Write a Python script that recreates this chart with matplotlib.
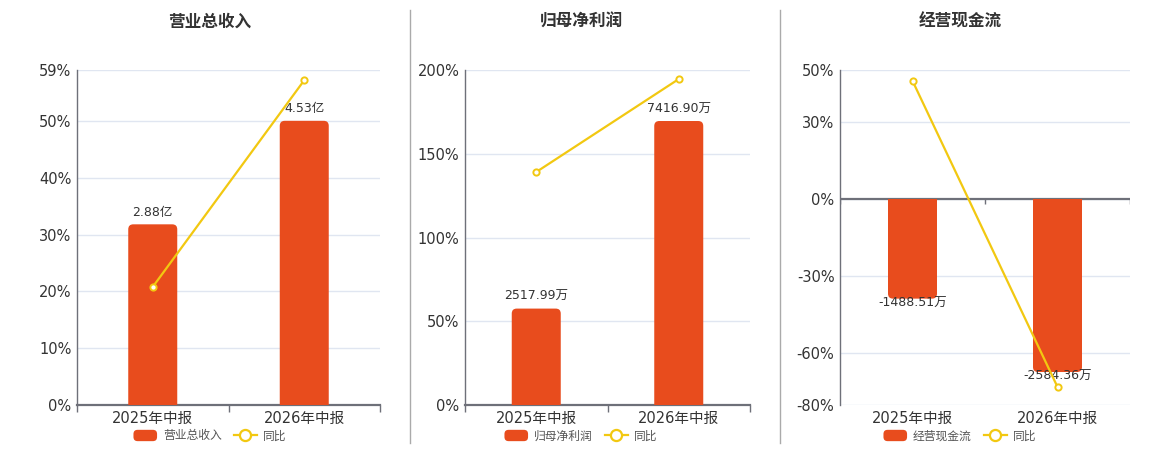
import numpy as np
import matplotlib
matplotlib.use("Agg")
import matplotlib.pyplot as plt
from matplotlib.patches import FancyBboxPatch, Rectangle
from matplotlib.lines import Line2D
from matplotlib.legend_handler import HandlerBase

plt.rcParams["font.family"] = ["DejaVu Sans", "Noto Sans CJK SC"]

categories = ["2025年中报", "2026年中报"]

# 营业总收入 (亿) and 同比 (%)
revenue = [2.88, 4.53]
revenue_labels = ["2.88亿", "4.53亿"]
revenue_yoy = [20.8, 57.2]

# 归母净利润 (万) and 同比 (%)
profit = [2517.99, 7416.90]
profit_labels = ["2517.99万", "7416.90万"]
profit_yoy = [139.1, 194.6]

# 经营现金流 (万) and 同比 (%)
cashflow = [-1488.51, -2584.36]
cashflow_labels = ["-1488.51万", "-2584.36万"]
cashflow_yoy = [45.8, -73.0]

BAR_COLOR = "#E84C1D"
LINE_COLOR = "#F2C811"
TEXT_COLOR = "#333333"
AXIS_COLOR = "#6E7079"
GRID_COLOR = "#E0E6F1"

W, H = 1160, 450

panels = [
    dict(title="营业总收入", name="营业总收入", bars=revenue, labels=revenue_labels,
         yoy=revenue_yoy, left=77, right=380, center=210,
         pct_lim=(0, 59), pct_ticks=[0, 10, 20, 30, 40, 50, 59], bar_lim=(0, 5.34)),
    dict(title="归母净利润", name="归母净利润", bars=profit, labels=profit_labels,
         yoy=profit_yoy, left=465, right=750, center=581,
         pct_lim=(0, 200), pct_ticks=[0, 50, 100, 150, 200], bar_lim=(0, 8749)),
    dict(title="经营现金流", name="经营现金流", bars=cashflow, labels=cashflow_labels,
         yoy=cashflow_yoy, left=840, right=1130, center=960,
         pct_lim=(-80, 50), pct_ticks=[-80, -60, -30, 0, 30, 50], bar_lim=(-3077, 1926)),
]

fig = plt.figure(figsize=(W / 100, H / 100), dpi=100)

top_px, bottom_px = 70, 405
bar_px = 49


class RoundRectHandler(HandlerBase):
    def create_artists(self, legend, orig_handle, xdescent, ydescent, width,
                       height, fontsize, trans):
        p = FancyBboxPatch((-xdescent, -ydescent), width, height,
                           boxstyle="round,pad=0,rounding_size=3",
                           facecolor=BAR_COLOR, edgecolor="none", transform=trans)
        return [p]


def rounded_bar(ax, x, h, width, radius_px, ax_w_px, ax_h_px, ylim):
    # rounded box reaching past the baseline, clipped at the baseline
    x_per_px = 2.0 / ax_w_px
    y_per_px = (ylim[1] - ylim[0]) / ax_h_px
    r = radius_px * x_per_px
    extra = 10 * y_per_px
    if h >= 0:
        y0, hh = -extra, h + extra
        clip = Rectangle((-1, 0), 3, ylim[1] * 2, transform=ax.transData)
    else:
        y0, hh = h, -h + extra
        clip = Rectangle((-1, ylim[0] * 2), 3, -ylim[0] * 2, transform=ax.transData)
    p = FancyBboxPatch((x - width / 2, y0), width, hh,
                       boxstyle=f"round,pad=0,rounding_size={r}",
                       mutation_aspect=y_per_px / x_per_px,
                       facecolor=BAR_COLOR, edgecolor="none", linewidth=0)
    ax.add_patch(p)
    p.set_clip_path(clip)


for i, p in enumerate(panels):
    rect = [p["left"] / W, 1 - bottom_px / H, (p["right"] - p["left"]) / W,
            (bottom_px - top_px) / H]
    ax_w_px = p["right"] - p["left"]
    ax_h_px = bottom_px - top_px
    x = np.arange(len(categories))

    ax = fig.add_axes(rect)
    ax.set_xlim(-0.5, 1.5)
    ax.set_ylim(*p["pct_lim"])
    ax.set_yticks(p["pct_ticks"])
    ax.set_yticklabels([f"{t}%" for t in p["pct_ticks"]])
    ax.grid(axis="y", color=GRID_COLOR, linewidth=1)
    ax.set_axisbelow(True)
    ax.tick_params(axis="y", length=0, labelsize=10.5, labelcolor=TEXT_COLOR, pad=4)
    ax.set_xticks(x)
    ax.set_xticklabels(categories)
    ax.tick_params(axis="x", which="major", length=0, labelsize=10.5,
                   labelcolor=TEXT_COLOR, pad=4)
    for s in ["top", "right"]:
        ax.spines[s].set_visible(False)
    ax.spines["left"].set_color(AXIS_COLOR)
    ax.spines["left"].set_linewidth(1)
    if p["pct_lim"][0] < 0:
        ax.spines["bottom"].set_visible(False)
        ax.axhline(0, color=AXIS_COLOR, linewidth=1.6, zorder=3)
        tick_len = 5 * (p["pct_lim"][1] - p["pct_lim"][0]) / ax_h_px
        ax.vlines([-0.5, 0.5, 1.5], -tick_len, 0, color=AXIS_COLOR, linewidth=1)
    else:
        ax.spines["bottom"].set_color(AXIS_COLOR)
        ax.spines["bottom"].set_linewidth(1.6)
        ax.set_xticks([-0.5, 0.5, 1.5], minor=True)
        ax.tick_params(axis="x", which="minor", length=5, color=AXIS_COLOR, width=1)
    ax.spines["bottom"].set_zorder(4)

    # bars on their own scale
    axb = fig.add_axes(rect, sharex=ax)
    axb.set_facecolor("none")
    axb.set_ylim(*p["bar_lim"])
    axb.axis("off")
    width = bar_px * 2.0 / ax_w_px
    for xi, v, lab in zip(x, p["bars"], p["labels"]):
        rounded_bar(axb, xi, v, width, 5, ax_w_px, ax_h_px, p["bar_lim"])
        off = 4 if v >= 0 else 1.5
        axb.annotate(lab, (xi, v), xytext=(0, off), textcoords="offset points",
                     ha="center", va="bottom" if v >= 0 else "top",
                     fontsize=9, color=TEXT_COLOR)

    # yoy line on the percentage scale
    axl = fig.add_axes(rect, sharex=ax)
    axl.set_facecolor("none")
    axl.set_ylim(*p["pct_lim"])
    axl.axis("off")
    axl.plot(x, p["yoy"], color=LINE_COLOR, linewidth=1.6, marker="o",
             markersize=4.5, markerfacecolor="white", markeredgecolor=LINE_COLOR,
             markeredgewidth=1.4, clip_on=False)

    fig.text(p["center"] / W, 1 - 22 / H, p["title"], ha="center", va="center",
             fontsize=12, fontweight="bold", color=TEXT_COLOR)

    bar_handle = object()
    line_handle = Line2D([0], [0], color=LINE_COLOR, linewidth=1.6, marker="o",
                         markersize=8, markerfacecolor="white",
                         markeredgecolor=LINE_COLOR, markeredgewidth=1.6)
    fig.legend([bar_handle, line_handle], [p["name"], "同比"], loc="center",
               bbox_to_anchor=(p["center"] / W, 1 - 436 / H), ncol=2,
               frameon=False, fontsize=8.5, labelcolor="#555555",
               handlelength=2.0, handleheight=1.1, columnspacing=1.0,
               handletextpad=0.5, borderpad=0,
               handler_map={bar_handle: RoundRectHandler()})

for sx in [410, 780]:
    fig.add_artist(Line2D([sx / W, sx / W], [1 - 10 / H, 1 - 443 / H],
                          color="#AAAAAA", linewidth=1))

fig.savefig("out.png", dpi=100)
